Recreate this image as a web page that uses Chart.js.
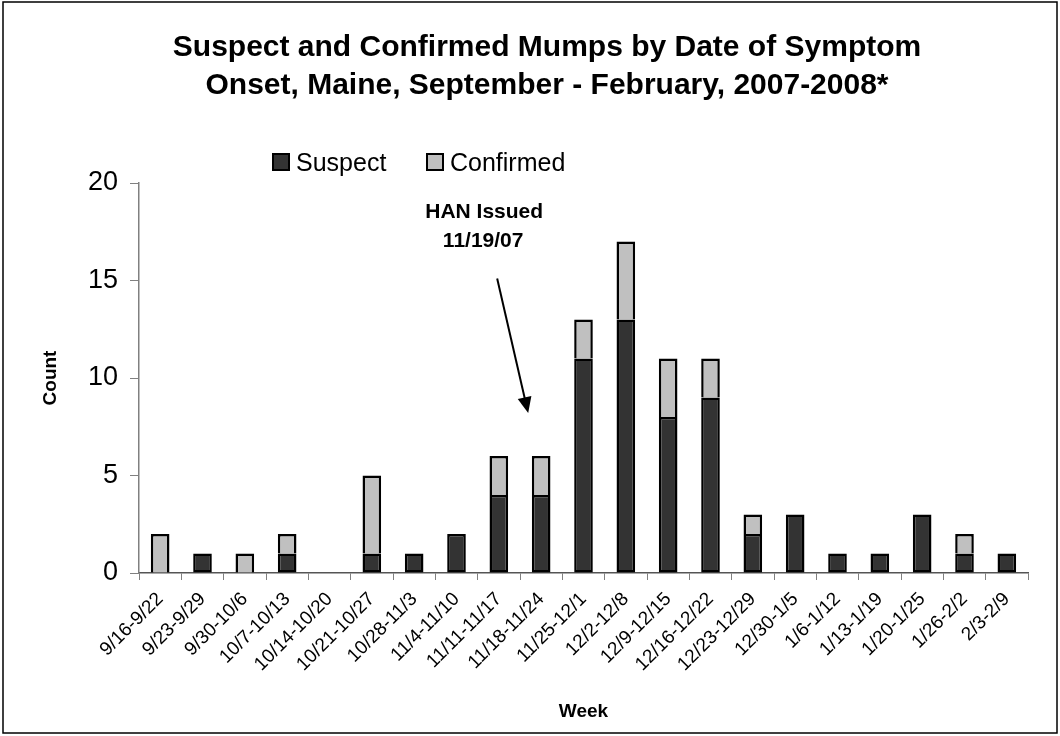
<!DOCTYPE html>
<html>
<head>
<meta charset="utf-8">
<script src="https://cdn.jsdelivr.net/npm/chart.js@4"></script>
<style>
  html, body { margin: 0; padding: 0; background: #fff; }
  #wrap { width: 1060px; height: 736px; }
</style>
</head>
<body>
<div id="wrap"><canvas id="chart"></canvas></div>
<script>
const weeks = ['9/16-9/22', '9/23-9/29', '9/30-10/6', '10/7-10/13', '10/14-10/20',
  '10/21-10/27', '10/28-11/3', '11/4-11/10', '11/11-11/17', '11/18-11/24',
  '11/25-12/1', '12/2-12/8', '12/9-12/15', '12/16-12/22', '12/23-12/29',
  '12/30-1/5', '1/6-1/12', '1/13-1/19', '1/20-1/25', '1/26-2/2', '2/3-2/9'];
const suspect = [0, 1, 0, 1, 0, 1, 1, 2, 4, 4, 11, 13, 8, 9, 2, 3, 1, 1, 3, 1, 1];
const confirmed = [2, 0, 1, 1, 0, 4, 0, 0, 2, 2, 2, 4, 3, 2, 1, 0, 0, 0, 0, 1, 0];
const titleLines = ['Suspect and Confirmed Mumps by Date of Symptom',
  'Onset, Maine, September - February, 2007-2008*'];
const hanText = ['HAN Issued', '11/19/07'];

const font = '"Liberation Sans", Arial, sans-serif';
// empty segments are left out so they draw no outline
const noZero = (arr) => arr.map((v) => (v === 0 ? null : v));

// title, legend, HAN arrow and outer frame
const extras = {
  id: 'extras',
  afterDraw(chart) {
    const ctx = chart.ctx;
    const x = chart.scales.x;
    const y = chart.scales.y;
    ctx.save();

    ctx.strokeStyle = '#000';
    ctx.lineWidth = 1.5;
    ctx.strokeRect(3, 2, 1054, 731);

    ctx.fillStyle = '#000';
    ctx.textAlign = 'center';
    ctx.textBaseline = 'alphabetic';
    ctx.font = 'bold 30px ' + font;
    ctx.fillText(titleLines[0], 547, 56);
    ctx.fillText(titleLines[1], 547, 94);

    // legend
    const items = [['Suspect', '#333333', 273], ['Confirmed', '#c0c0c0', 427]];
    ctx.font = '25px ' + font;
    ctx.textAlign = 'left';
    items.forEach(([label, col, lx]) => {
      ctx.fillStyle = col;
      ctx.fillRect(lx, 154, 16, 16);
      ctx.lineWidth = 2;
      ctx.strokeStyle = '#000';
      ctx.strokeRect(lx, 154, 16, 16);
      ctx.fillStyle = '#000';
      ctx.fillText(label, lx + 23, 171);
    });

    // HAN annotation
    const cx = x.getPixelForValue(9);
    ctx.textAlign = 'center';
    ctx.font = 'bold 21px ' + font;
    ctx.fillText(hanText[0], cx - 57, y.getPixelForValue(18.2));
    ctx.fillText(hanText[1], cx - 58, y.getPixelForValue(16.7));

    const x0 = cx - 44, y0 = y.getPixelForValue(15.1);
    const x1 = cx - 13, y1 = y.getPixelForValue(8.2);
    const ang = Math.atan2(y1 - y0, x1 - x0);
    ctx.strokeStyle = '#000';
    ctx.lineWidth = 2;
    ctx.beginPath();
    ctx.moveTo(x0, y0);
    ctx.lineTo(x1 - 12 * Math.cos(ang), y1 - 12 * Math.sin(ang));
    ctx.stroke();
    ctx.beginPath();
    ctx.moveTo(x1, y1);
    ctx.lineTo(x1 - 16 * Math.cos(ang) + 7 * Math.sin(ang), y1 - 16 * Math.sin(ang) - 7 * Math.cos(ang));
    ctx.lineTo(x1 - 16 * Math.cos(ang) - 7 * Math.sin(ang), y1 - 16 * Math.sin(ang) + 7 * Math.cos(ang));
    ctx.closePath();
    ctx.fill();

    ctx.restore();
  }
};

new Chart(document.getElementById('chart'), {
  type: 'bar',
  data: {
    labels: weeks,
    datasets: [
      { label: 'Suspect', data: noZero(suspect), backgroundColor: '#333333',
        borderColor: '#000', borderWidth: 2.5, borderSkipped: false },
      { label: 'Confirmed', data: noZero(confirmed), backgroundColor: '#c0c0c0',
        borderColor: '#000', borderWidth: 2.5, borderSkipped: 'bottom' }
    ]
  },
  options: {
    responsive: true,
    maintainAspectRatio: false,
    animation: false,
    layout: { padding: { left: 35, right: 32, top: 183, bottom: 11 } },
    datasets: { bar: { barPercentage: 0.44, categoryPercentage: 1 } },
    plugins: {
      legend: { display: false },
      tooltip: { enabled: false }
    },
    scales: {
      x: {
        stacked: true,
        afterFit: (s) => { s.height = 152; },
        grid: { drawOnChartArea: false, tickLength: 7, color: '#808080', offset: true },
        border: { color: '#555', width: 1.5 },
        ticks: {
          color: '#000', font: { family: font, size: 19 },
          maxRotation: 45, minRotation: 45, autoSkip: false, padding: 8
        },
        title: { display: true, text: 'Week', color: '#000', padding: { top: 4, bottom: 2 },
          font: { family: font, size: 19, weight: 'bold' } }
      },
      y: {
        stacked: true,
        min: 0, max: 20,
        afterFit: (s) => { s.width = 104; },
        grid: { drawOnChartArea: false, tickLength: 9, color: '#808080' },
        border: { color: '#808080', width: 1.5 },
        ticks: { stepSize: 5, color: '#000', padding: 12,
          font: { family: font, size: 27 } },
        title: { display: true, text: 'Count', color: '#000',
          font: { family: font, size: 19, weight: 'bold' } }
      }
    }
  },
  plugins: [extras]
});
</script>
</body>
</html>
